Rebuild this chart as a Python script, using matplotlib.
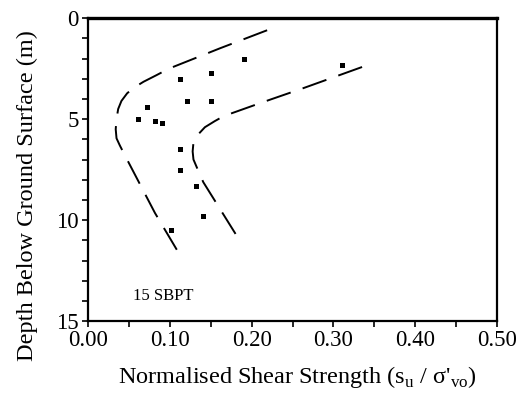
import matplotlib
matplotlib.use("Agg")
import matplotlib.pyplot as plt
from matplotlib.ticker import MultipleLocator

plt.rcParams['font.family'] = ['Liberation Serif', 'DejaVu Serif']
plt.rcParams['mathtext.fontset'] = 'custom'
plt.rcParams['mathtext.rm'] = 'Liberation Serif'

# SBPT results: normalised shear strength vs depth (m)
su_ratio = [0.191, 0.150, 0.113, 0.121, 0.150, 0.072, 0.061, 0.082, 0.091,
            0.113, 0.113, 0.132, 0.310, 0.141, 0.101]
depth = [2.0, 2.7, 3.0, 4.1, 4.1, 4.4, 5.0, 5.1, 5.2,
         6.5, 7.5, 8.3, 2.3, 9.8, 10.5]

# lower / upper bound envelopes
lower_su = [0.219, 0.161, 0.099, 0.084, 0.068, 0.056, 0.048, 0.041, 0.037,
            0.035, 0.034, 0.035, 0.039, 0.044, 0.082, 0.115]
lower_d = [0.6, 1.5, 2.5, 2.82, 3.15, 3.45, 3.72, 4.1, 4.5,
           5.0, 5.5, 5.95, 6.3, 6.7, 9.65, 11.9]
upper_su = [0.335, 0.263, 0.211, 0.166, 0.155, 0.143, 0.134, 0.129, 0.128,
            0.129, 0.133, 0.141, 0.183]
upper_d = [2.42, 3.47, 4.2, 4.85, 5.1, 5.4, 5.79, 6.15, 6.6,
           7.0, 7.38, 8.12, 10.85]

fig = plt.figure(figsize=(5.2, 3.94), dpi=100)
ax = fig.add_axes([0.169, 0.185, 0.787, 0.769])

ax.plot(lower_su, lower_d, color='black', lw=1.4, dashes=[13, 6.5])
ax.plot(upper_su, upper_d, color='black', lw=1.4, dashes=[13, 6.5])
ax.plot(su_ratio, depth, 's', color='black', ms=3.6, mew=0)

ax.text(0.055, 13.75, '15 SBPT', fontsize=12, va='center', ha='left')

ax.set_xlim(0, 0.5)
ax.set_ylim(15, 0)
ax.set_xticks([0.0, 0.1, 0.2, 0.3, 0.4, 0.5])
ax.set_xticklabels(['0.00', '0.10', '0.20', '0.30', '0.40', '0.50'])
ax.xaxis.set_minor_locator(MultipleLocator(0.05))
ax.set_yticks([0, 5, 10, 15])
ax.yaxis.set_minor_locator(MultipleLocator(1))
ax.tick_params(which='both', direction='out', length=4.5, width=1.2, labelsize=16.5, pad=2)

for side in ['left', 'right', 'bottom']:
    ax.spines[side].set_linewidth(1.6)
ax.spines['top'].set_linewidth(2.4)

ax.set_xlabel(r"Normalised Shear Strength (s$_\mathregular{u}$ / $\mathregular{\sigma}$'$_\mathregular{vo}$)",
              fontsize=17.5, va='center')
ax.xaxis.set_label_coords(0.511, -0.185)
ax.set_ylabel('Depth Below Ground Surface (m)', fontsize=17.5, va='center')
ax.yaxis.set_label_coords(-0.147, 0.415)

fig.savefig('out.png', dpi=100)
